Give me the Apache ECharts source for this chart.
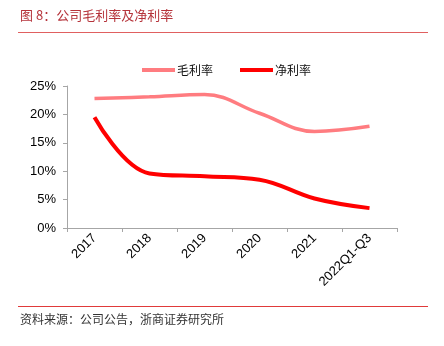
<!DOCTYPE html>
<html><head><meta charset="utf-8">
<script src="https://cdn.jsdelivr.net/npm/echarts@6/dist/echarts.min.js"></script>
<style>html,body{margin:0;padding:0;background:#fff}#c{width:444px;height:346px}</style>
</head><body><div id="c"></div>
<script>
var categories = ['2017','2018','2019','2020','2021','2022Q1-Q3'];
var grossMargin = [0.228, 0.231, 0.235, 0.202, 0.170, 0.179];
var netMargin = [0.195, 0.096, 0.091, 0.085, 0.052, 0.035];
var yTicks = [0, 0.05, 0.10, 0.15, 0.20, 0.25];
var seriesNames = ['毛利率','净利率'];

var chart = echarts.init(document.getElementById('c'));
var cjk = '"Noto Sans CJK SC", sans-serif';
chart.setOption({
  animation: false,
  backgroundColor: '#fff',
  graphic: [
    {type:'text', left:20, top:9, style:{text:'图 8：公司毛利率及净利率', font:'13px ' + cjk, fill:'#b5333a'}},
    {type:'line', shape:{x1:18,y1:32.5,x2:428,y2:32.5}, style:{stroke:'#e06060', lineWidth:1}},
    {type:'line', shape:{x1:18,y1:306.5,x2:428,y2:306.5}, style:{stroke:'#e03a3a', lineWidth:1}},
    {type:'text', left:20, top:313, style:{text:'资料来源：公司公告，浙商证券研究所', font:'12px ' + cjk, fill:'#333'}}
  ],
  legend: {
    top: 59, left: 137,
    itemWidth: 33, itemHeight: 4, itemGap: 27,
    icon: 'rect',
    textStyle: {fontFamily: cjk, fontSize: 12, color: '#111', padding:[0,0,0,-3]},
    data: seriesNames
  },
  grid: {left: 67, right: 47, top: 86, bottom: 118},
  xAxis: {
    type: 'category', data: categories, boundaryGap: true,
    axisLine: {lineStyle: {color: '#a6a6a6', width: 1}},
    axisTick: {show: true, length: 4, lineStyle: {color: '#a6a6a6'}},
    axisLabel: {rotate: 45, margin: 8, color: '#000', fontSize: 13, fontFamily: '"Liberation Sans", Arial, sans-serif', interval: 0}
  },
  yAxis: {
    type: 'value', min: yTicks[0], max: yTicks[yTicks.length-1], interval: 0.05,
    axisLine: {show: true, lineStyle: {color: '#a6a6a6', width: 1}},
    axisTick: {show: true, length: 4, lineStyle: {color: '#a6a6a6'}},
    splitLine: {show: false},
    axisLabel: {color: '#000', fontSize: 13, fontFamily: '"Liberation Sans", Arial, sans-serif', margin: 11,
      formatter: function(v){ return Math.round(v*100) + '%'; }}
  },
  series: [
    {name: seriesNames[0], type: 'line', data: grossMargin, smooth: 0.4, showSymbol: false,
     lineStyle: {color: '#ff7c80', width: 3.5}, itemStyle: {color: '#ff7c80'}},
    {name: seriesNames[1], type: 'line', data: netMargin, smooth: 0.4, showSymbol: false,
     lineStyle: {color: '#ff0000', width: 4}, itemStyle: {color: '#ff0000'}}
  ]
});
</script></body></html>
